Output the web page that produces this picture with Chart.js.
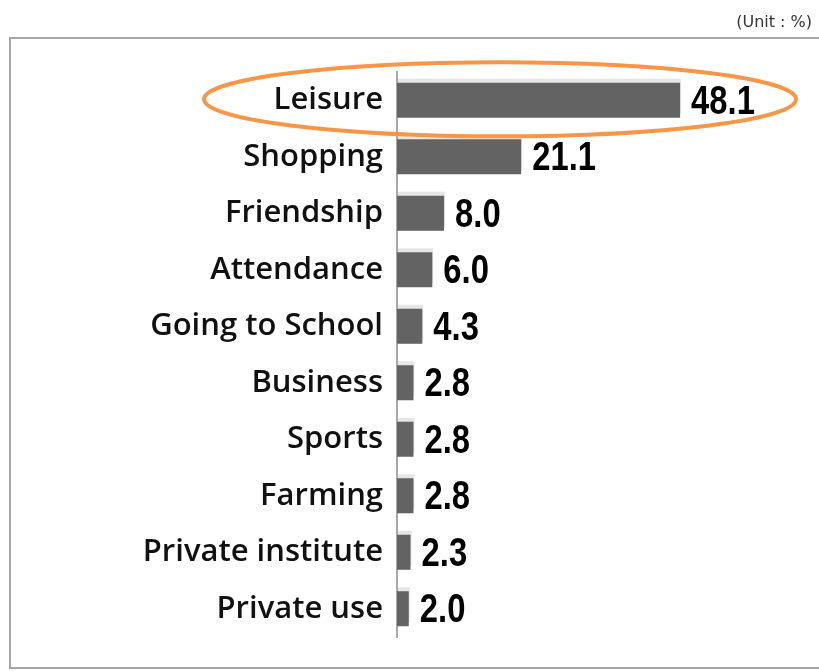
<!DOCTYPE html>
<html>
<head>
<meta charset="utf-8">
<script src="https://cdn.jsdelivr.net/npm/chart.js@4"></script>
<style>
  html, body { margin: 0; padding: 0; background: #fff; }
  #wrap { width: 819px; height: 671px; position: relative; }
</style>
</head>
<body>
<div id="wrap"><canvas id="c" width="819" height="671"></canvas></div>
<script>
// Purpose of travel, share of respondents (%)
const categories = ['Leisure', 'Shopping', 'Friendship', 'Attendance', 'Going to School',
                    'Business', 'Sports', 'Farming', 'Private institute', 'Private use'];
const shares = [48.1, 21.1, 8.0, 6.0, 4.3, 2.8, 2.8, 2.8, 2.3, 2.0];
const unitLabel = '(Unit : %)';
const highlighted = 'Leisure';

// Frame around the plot and the unit note above it
const framePlugin = {
  id: 'frame',
  beforeDraw(chart) {
    const ctx = chart.ctx;
    ctx.save();
    ctx.fillStyle = '#fff';
    ctx.fillRect(0, 0, chart.width, chart.height);
    ctx.strokeStyle = '#a6a6a6';
    ctx.lineWidth = 2;
    ctx.strokeRect(10, 38, chart.width + 20, chart.height - 38 - 3);
    ctx.fillStyle = '#333';
    ctx.font = '16px "DejaVu Sans", sans-serif';
    ctx.textAlign = 'right';
    ctx.textBaseline = 'middle';
    ctx.fillText(unitLabel, 812, 23);
    ctx.restore();
  }
};

// Soft light-gray edge behind each bar
const barShadowPlugin = {
  id: 'barShadow',
  beforeDatasetsDraw(chart) {
    const ctx = chart.ctx;
    ctx.save();
    ctx.shadowColor = '#e6e6e6';
    ctx.shadowOffsetX = 1;
    ctx.shadowOffsetY = -4;
    ctx.shadowBlur = 0;
  },
  afterDatasetsDraw(chart) {
    chart.ctx.restore();
  }
};

// Value printed after each bar (condensed bold), plus the ring around the highlighted row
const valueLabelPlugin = {
  id: 'valueLabels',
  afterDraw(chart) {
    const ctx = chart.ctx;
    const meta = chart.getDatasetMeta(0);
    const data = chart.data.datasets[0].data;
    const squeeze = 0.8;
    ctx.save();
    ctx.fillStyle = '#000';
    ctx.font = 'bold 41px "Liberation Sans", Arial, sans-serif';
    ctx.textAlign = 'left';
    ctx.textBaseline = 'middle';
    meta.data.forEach((bar, i) => {
      ctx.save();
      ctx.translate(bar.x + 11, bar.y + 2);
      ctx.scale(squeeze, 1);
      ctx.fillText(data[i].toFixed(1), 0, 0);
      ctx.restore();
    });

    const idx = categories.indexOf(highlighted);
    const cy = chart.scales.y.getPixelForValue(idx);
    ctx.strokeStyle = '#f79646';
    ctx.lineWidth = 4;
    ctx.beginPath();
    ctx.ellipse(500, cy - 1, 296, 37, 0, 0, Math.PI * 2);
    ctx.stroke();
    ctx.restore();
  }
};

new Chart(document.getElementById('c'), {
  type: 'bar',
  data: {
    labels: categories,
    datasets: [{
      data: shares,
      backgroundColor: '#636363',
      borderWidth: 0,
      barPercentage: 0.62,
      categoryPercentage: 1.0
    }]
  },
  options: {
    indexAxis: 'y',
    responsive: false,
    animation: false,
    devicePixelRatio: 1,
    layout: { padding: { top: 72, bottom: 34, left: 0, right: 10 } },
    plugins: {
      legend: { display: false },
      tooltip: { enabled: false },
      title: { display: false }
    },
    scales: {
      x: {
        display: false,
        min: 0,
        max: 70
      },
      y: {
        afterFit(scale) { scale.width = 397; },
        grid: { display: false, drawTicks: false },
        border: { display: true, color: '#a8a8a8', width: 2 },
        ticks: {
          color: '#111',
          padding: 14,
          font: { family: '"Open Sans", "Noto Sans", sans-serif', size: 31, weight: '600' }
        }
      }
    }
  },
  plugins: [framePlugin, barShadowPlugin, valueLabelPlugin]
});
</script>
</body>
</html>
